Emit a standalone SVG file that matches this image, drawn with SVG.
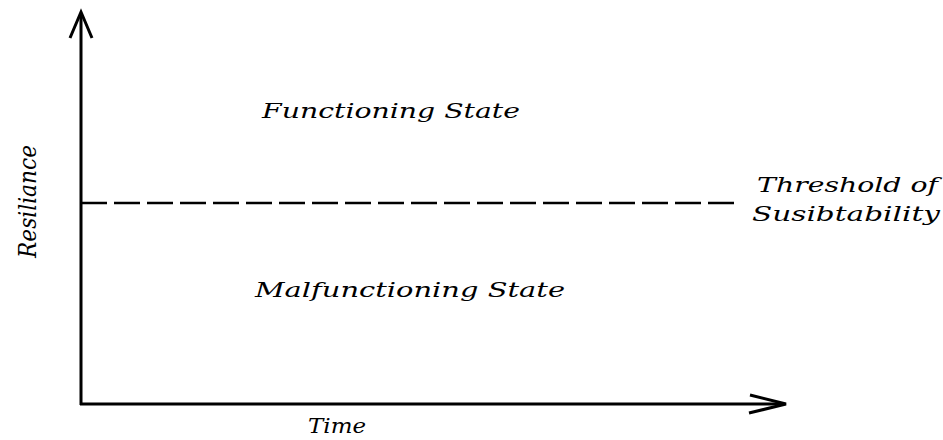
<svg xmlns="http://www.w3.org/2000/svg" width="943" height="440" viewBox="0 0 943 440">
<style>
.t{font-family:"DejaVu Serif","Liberation Serif",serif;font-style:italic;font-size:21px;fill:#000}
.ax{stroke:#000;stroke-width:3;fill:none}
</style>
<rect width="943" height="440" fill="#fff"/>
<g id="connectors">
<line class="ax" x1="81" y1="14" x2="81" y2="405"/>
<line class="ax" x1="80" y1="404" x2="784" y2="404"/>
<polyline class="ax" points="70,38 81,12 92,38"/>
<polyline class="ax" points="750,395 786,404 749,413"/>
<line x1="81" y1="203" x2="734" y2="203" stroke="#000" stroke-width="2.5" stroke-dasharray="26,7"/>
</g>
<g id="functioning"><text class="t" x="262" y="118" textLength="258" lengthAdjust="spacingAndGlyphs">Functioning State</text></g>
<g id="malfunctioning"><text class="t" x="255" y="297" textLength="310" lengthAdjust="spacingAndGlyphs">Malfunctioning State</text></g>
<g id="threshold"><text class="t" x="757" y="192" textLength="181" lengthAdjust="spacingAndGlyphs">Threshold of</text><text class="t" x="752" y="221" textLength="188" lengthAdjust="spacingAndGlyphs">Susibtability</text></g>
<g id="time"><text class="t" x="308" y="433" textLength="58" lengthAdjust="spacingAndGlyphs">Time</text></g>
<g id="resiliance"><text class="t" style="font-size:25px" transform="translate(36,258) rotate(-90)" x="0" y="0" textLength="113" lengthAdjust="spacingAndGlyphs">Resiliance</text></g>
</svg>
